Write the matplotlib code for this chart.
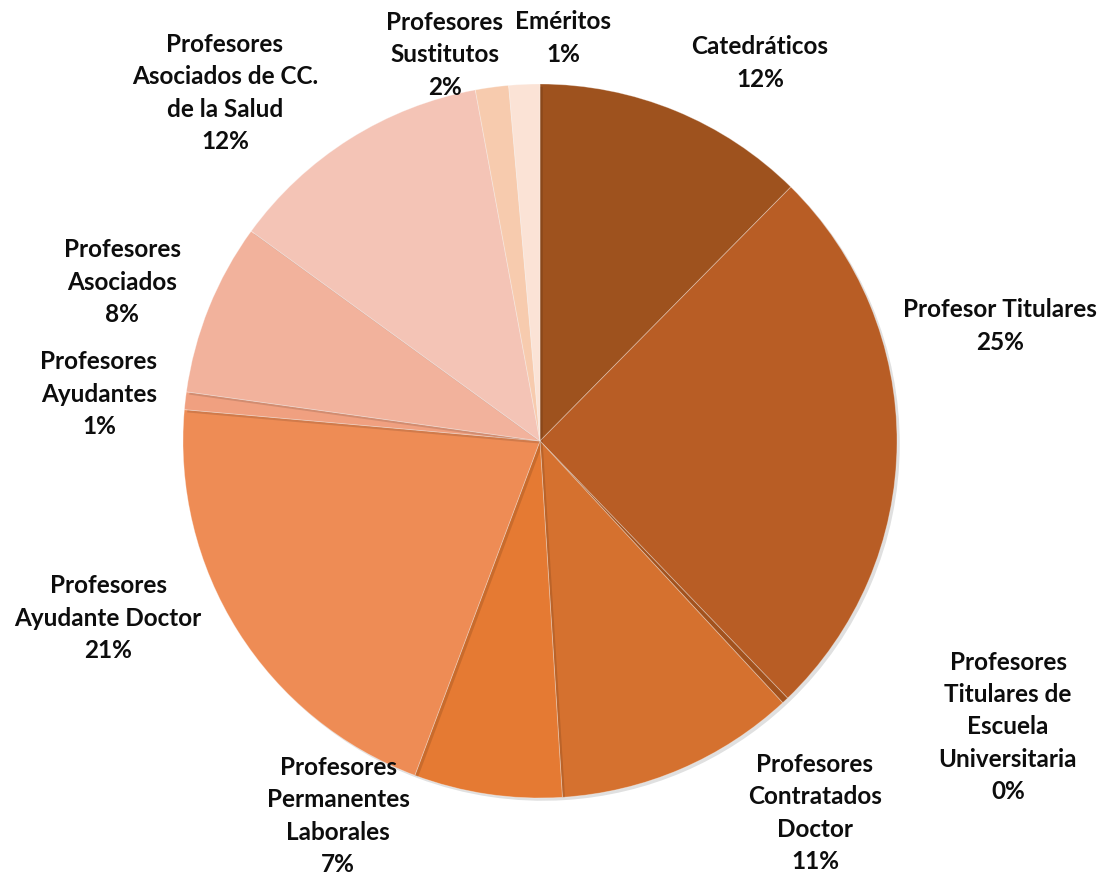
import matplotlib.pyplot as plt
import matplotlib.patheffects as pe

# Personal docente por categoría (%)
categorias = ["Catedráticos", "Profesor Titulares",
              "Profesores\nTitulares de\nEscuela\nUniversitaria",
              "Profesores\nContratados\nDoctor",
              "Profesores\nPermanentes\nLaborales",
              "Profesores\nAyudante Doctor",
              "Profesores\nAyudantes",
              "Profesores\nAsociados",
              "Profesores\nAsociados de CC.\nde la Salud",
              "Profesores\nSustitutos",
              "Eméritos"]
porcentajes = [12.4, 25.4, 0.3, 10.9, 6.7, 20.7, 0.8, 7.8, 12.1, 1.5, 1.4]
etiquetas_pct = ["12%", "25%", "0%", "11%", "7%", "21%", "1%", "8%", "12%", "2%", "1%"]

colores = ["#9E521E", "#B85D25", "#A3521D", "#D5712F", "#E57A33", "#EE8C55",
           "#F0A080", "#F2B29C", "#F4C4B6", "#F7CBAE", "#FBE3D6"]

# posiciones de las etiquetas (pixeles)
pos_etiquetas = [(760, 63), (1000, 326), (1008, 727), (815, 813), (338, 816),
                 (108, 618), (99, 394), (122, 282), (225, 93), (445, 55), (563, 38)]

W, H = 1106, 877
fig = plt.figure(figsize=(W / 100, H / 100), dpi=100)
ax = fig.add_axes([0, 0, 1, 1])

wedges, _ = ax.pie(porcentajes, colors=colores, startangle=90, counterclock=False,
                   center=(540, H - 441), radius=357,
                   wedgeprops=dict(edgecolor=(1, 1, 1, 0.35), linewidth=0.6))
for w in wedges:
    w.set_path_effects([pe.SimplePatchShadow(offset=(2, -2), shadow_rgbFace="#000000", alpha=0.12),
                        pe.Normal()])

ax.set_xlim(0, W)
ax.set_ylim(0, H)
ax.set_aspect("equal")
ax.axis("off")

for cat, pct, (x, y) in zip(categorias, etiquetas_pct, pos_etiquetas):
    ax.text(x, H - y, cat + "\n" + pct, ha="center", va="center", fontsize=17.5,
            fontweight="bold", family="Lato", linespacing=1.48, color="#0D0D0D")

fig.savefig("out.png", dpi=100)
